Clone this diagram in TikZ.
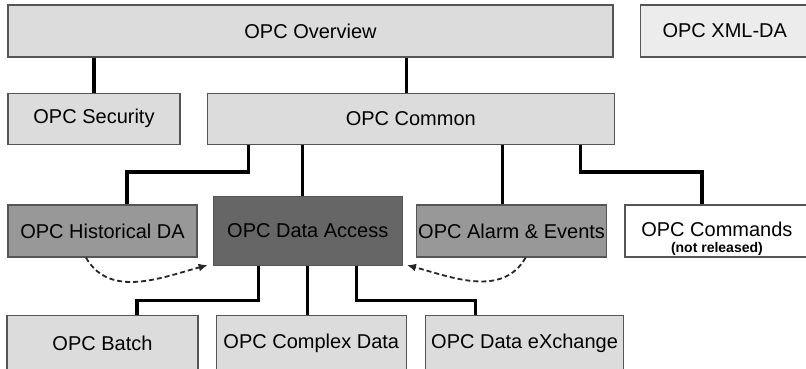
\documentclass[tikz,border=0pt]{standalone}
\usepackage{fontspec}
\setmainfont{Liberation Sans}
\usetikzlibrary{arrows.meta,positioning}
\usepackage{xcolor}
\definecolor{boxlight}{RGB}{220,220,220}
\definecolor{boxmid}{RGB}{152,152,152}
\definecolor{boxdark}{RGB}{102,102,102}
\definecolor{boxpale}{RGB}{236,236,236}
\definecolor{boxline}{RGB}{85,85,85}

\begin{document}
\begin{tikzpicture}[x=1pt,y=1pt,>={Latex[length=9pt,width=8pt]},semithick]
  \tikzstyle{box}=[draw=boxline,line width=1.3pt,fill=boxlight,inner sep=0pt,minimum height=52pt,font=\fontsize{20}{22}\selectfont]
  \tikzstyle{link}=[line width=3.2pt,black]
  \tikzstyle{dep}=[->,line width=1.8pt,dash pattern=on 5pt off 3pt,black!85]

  \useasboundingbox (0,0) rectangle (806,368);

  % top rows
  \node[box,minimum width=605pt]  (overview) at (310.5,337) {OPC Overview};
  \node[box,minimum width=169pt,fill=boxpale] (xmlda) [right=26pt of overview] {OPC XML-DA};
  \node[box,minimum width=172pt,minimum height=51pt] (security) [below right=35pt and 0pt of overview.south west] {OPC Security};
  \node[box,minimum width=407pt,minimum height=51pt] (common) [right=26pt of security] {OPC Common};

  % middle row
  \node[box,minimum width=189pt,fill=boxmid]  (historical) at (102.5,137) {OPC Historical DA};
  \node[box,minimum width=189pt,minimum height=69pt,fill=boxdark] (dataaccess) [right=15pt of historical] {OPC Data Access};
  \node[box,minimum width=190pt,fill=boxmid]  (alarm) [right=13pt of dataaccess] {OPC Alarm \& Events};
  \node[box,minimum width=184pt,fill=white,align=center] (commands) [right=17pt of alarm]
    {\rule{0pt}{30pt}OPC Commands\\[-6pt]{\fontsize{14}{15}\selectfont\bfseries (not released)}};

  % bottom row
  \node[box,minimum width=191pt,minimum height=55pt] (batch) at (102.5,25) {OPC Batch};
  \node[box,minimum width=190pt,minimum height=55pt] (complex) [right=17pt of batch] {OPC Complex Data};
  \node[box,minimum width=198pt,minimum height=55pt] (exchange) [right=18pt of complex] {OPC Data eXchange};

  % tree lines
  \draw[link] (security.north) -- (security.north |- overview.south);
  \draw[link] ([xshift=-4.5pt]common.north) -- ([xshift=-4.5pt]common.north |- overview.south);

  \draw[link] ([xshift=-162.5pt]common.south) -- ++(0,-27) -| ([xshift=24.5pt]historical.north);
  \draw[link] ([xshift=-5.5pt]dataaccess.north) -- ([xshift=-5.5pt]dataaccess.north |- common.south);
  \draw[link] ([xshift=-9pt]alarm.north) -- ([xshift=-9pt]alarm.north |- common.south);
  \draw[link] ([xshift=169.5pt]common.south) -- ++(0,-27) -| ([xshift=-15pt]commands.north);

  \draw[link] ([xshift=-49.5pt]dataaccess.south) -- ++(0,-34) -| ([xshift=34.5pt]batch.north);
  \draw[link] (dataaccess.south) -- (dataaccess.south |- complex.north);
  \draw[link] ([xshift=48.5pt]dataaccess.south) -- ++(0,-34) -| ([xshift=-49pt]exchange.north);

  % dashed dependencies
  \draw[dep] ([xshift=-16.5pt]historical.south) to[out=-60,in=195] ([xshift=-5pt,yshift=1pt]dataaccess.south west);
  \draw[dep] ([xshift=14pt]alarm.south) to[out=-120,in=-15] ([xshift=4pt,yshift=1pt]dataaccess.south east);
\end{tikzpicture}
\end{document}
